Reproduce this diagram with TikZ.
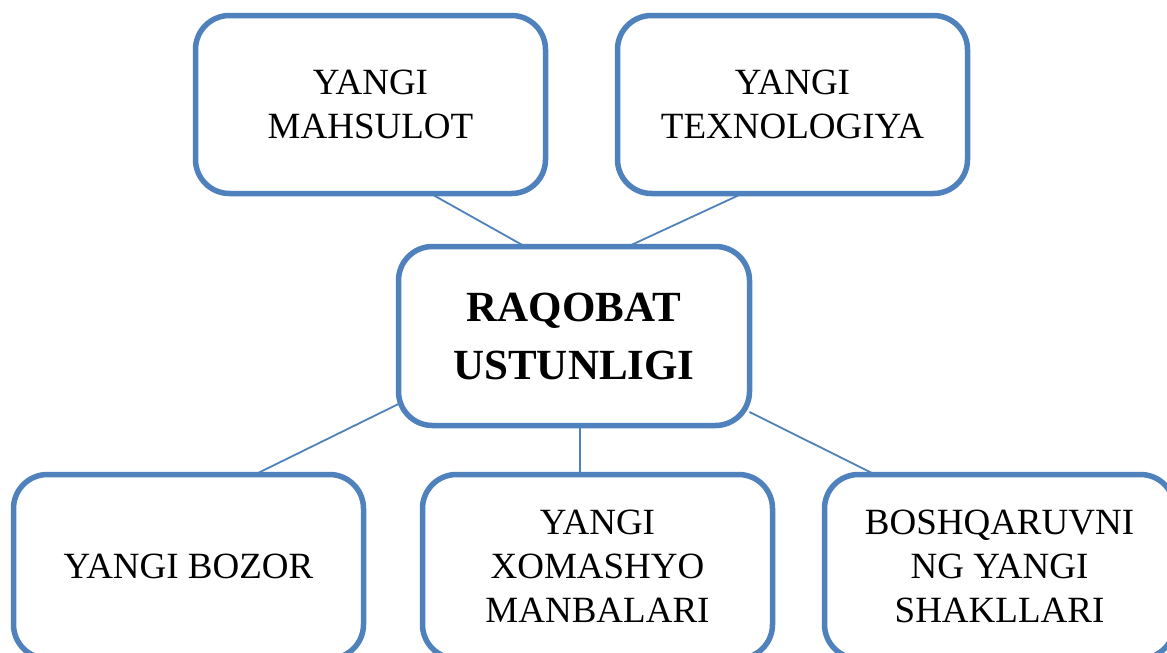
\documentclass[tikz,border=0pt]{standalone}
\usepackage{fontspec}
\setmainfont{Liberation Serif}
\usetikzlibrary{calc}
\definecolor{boxblue}{HTML}{4F81BD}
\tikzset{
  box/.style={draw=boxblue, line width=5.5pt, rounded corners=34pt, fill=white,
    minimum width=350pt, minimum height=178pt, align=center, inner sep=0pt, outer sep=0pt,
    font=\fontsize{37}{44}\selectfont},
  lowbox/.style={box, minimum height=184pt},
  mainbox/.style={box, minimum width=351pt, minimum height=179pt,
    font=\fontsize{43}{58}\selectfont\bfseries},
  link/.style={draw=boxblue, line width=1.8pt}
}
\begin{document}
\begin{tikzpicture}[x=1pt,y=-1pt]
\useasboundingbox (0,0) rectangle (1167,653);
\clip (0,0) rectangle (1167,653);
\node[box] (tl) at (370.5,104.5) {YANGI\\MAHSULOT};
\node[box] (tr) at (792.5,104.5) {YANGI\\TEXNOLOGIYA};
\node[mainbox] (c) at (574,336) {RAQOBAT\\USTUNLIGI};
\node[lowbox] (bl) at (188.5,566.5) {YANGI BOZOR};
\node[lowbox] (bm) at (597.5,566.5) {YANGI\\XOMASHYO\\MANBALARI};
\node[lowbox] (br) at (999.5,566.5) {BOSHQARUVNI\\NG YANGI\\SHAKLLARI};
\draw[link] ($(tl.south)+(60,0)$) -- ($(c.north)+(-49,0)$);
\draw[link] ($(tr.south)+(-50,0)$) -- ($(c.north)+(54,0)$);
\draw[link] ($(c.west)+(0,68)$) -- ($(bl.north)+(66.5,0)$);
\draw[link] ($(c.south)+(6,0)$) -- ($(bm.north)+(-17.5,0)$);
\draw[link] ($(c.east)+(0,76)$) -- ($(br.north)+(-124.5,0)$);
\end{tikzpicture}
\end{document}
